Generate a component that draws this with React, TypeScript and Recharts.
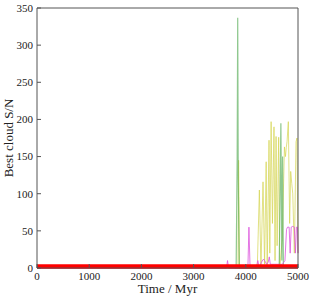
import { LineChart, Line, XAxis, YAxis } from 'recharts'

// best cloud signal-to-noise vs time

const xTicks = [0, 1000, 2000, 3000, 4000, 5000]
const yTicks = [0, 50, 100, 150, 200, 250, 300, 350]

const redTime = [0, 1000, 2000, 3000, 4000, 5000]
const redSN = [2, 2, 2, 2, 2, 2]

const greenTime = [3790, 3815, 3835, 3845, 3855, 3875, 4640, 4660, 4672, 4690, 4705, 4720]
const greenSN = [0, 0, 150, 337, 120, 0, 0, 120, 195, 10, 150, 0]

const yellowTime = [
  3830, 3850, 3862, 3880, 4220, 4260, 4290, 4330, 4360, 4390, 4410, 4445, 4460, 4485, 4510,
  4540, 4560, 4580, 4600, 4630, 4650, 4700, 4740, 4760, 4775, 4790, 4815, 4840, 4860, 4880,
  4900, 4930, 4962, 4980, 5000,
]
const yellowSN = [
  0, 0, 145, 0, 0, 105, 0, 116, 5, 143, 0, 172, 20, 197, 60,
  190, 10, 177, 30, 176, 0, 40, 163, 150, 162, 170, 197, 60, 130, 114,
  100, 20, 170, 175, 20,
]

const magentaTime = [
  0, 3630, 3650, 3670, 4040, 4060, 4080, 4100, 4200, 4230, 4260, 4300, 4340, 4360, 4400,
  4430, 4450, 4470, 4550, 4650, 4700, 4750, 4780, 4800, 4830, 4850, 4870, 4900, 4930, 4950,
  4970, 4990, 5000,
]
const magentaSN = [
  0, 0, 10, 0, 0, 55, 5, 0, 0, 10, 0, 8, 12, 10, 5,
  8, 15, 5, 5, 5, 5, 10, 52, 55, 55, 20, 55, 56, 55, 20,
  55, 55, 20,
]

const toRows = (t: number[], v: number[]) => t.map((x, i) => ({ t: x, v: v[i] }))

const font = '"Liberation Serif", "DejaVu Serif", serif'
const axisColor = '#555'

export default function App() {
  return (
    <div style={{ position: 'absolute', left: 0, top: 0, background: '#fff' }}>
      <LineChart width={314} height={300} margin={{ top: 7, right: 15, bottom: 0, left: 0 }}>
        <XAxis
          xAxisId="b"
          dataKey="t"
          type="number"
          domain={[0, 5000]}
          ticks={xTicks}
          allowDuplicatedCategory={false}
          height={32}
          tickSize={-4}
          tickMargin={8}
          axisLine={{ stroke: axisColor }}
          tickLine={{ stroke: axisColor }}
          tick={{ fill: '#222', fontSize: 11, fontFamily: font }}
          label={{ value: 'Time / Myr', position: 'insideBottom', offset: 7, fill: '#222', fontSize: 13, fontFamily: font }}
        />
        <XAxis
          xAxisId="t"
          orientation="top"
          dataKey="t"
          type="number"
          domain={[0, 5000]}
          ticks={xTicks}
          allowDuplicatedCategory={false}
          height={1}
          tickSize={-4}
          tickFormatter={() => ''}
          axisLine={{ stroke: axisColor }}
          tickLine={{ stroke: axisColor }}
        />
        <YAxis
          yAxisId="l"
          type="number"
          domain={[0, 350]}
          ticks={yTicks}
          width={37}
          tickSize={-4}
          tickMargin={8}
          axisLine={{ stroke: axisColor }}
          tickLine={{ stroke: axisColor }}
          tick={{ fill: '#222', fontSize: 11, fontFamily: font }}
          label={{ value: 'Best cloud S/N', angle: -90, position: 'insideLeft', offset: 8, fill: '#222', fontSize: 13, fontFamily: font, style: { textAnchor: 'middle' } }}
        />
        <YAxis
          yAxisId="r"
          orientation="right"
          type="number"
          domain={[0, 350]}
          ticks={yTicks}
          width={1}
          tickSize={-4}
          tickFormatter={() => ''}
          axisLine={{ stroke: axisColor }}
          tickLine={{ stroke: axisColor }}
        />
        <Line xAxisId="b" yAxisId="l" data={toRows(yellowTime, yellowSN)} dataKey="v" stroke="#d4d450" strokeOpacity={0.7} strokeWidth={1} dot={false} isAnimationActive={false} />
        <Line xAxisId="b" yAxisId="l" data={toRows(greenTime, greenSN)} dataKey="v" stroke="#60b060" strokeOpacity={0.7} strokeWidth={1.2} dot={false} isAnimationActive={false} />
        <Line xAxisId="b" yAxisId="l" data={toRows(magentaTime, magentaSN)} dataKey="v" stroke="#dd55dd" strokeOpacity={0.8} strokeWidth={1} dot={false} isAnimationActive={false} />
        <Line xAxisId="b" yAxisId="l" data={toRows(redTime, redSN)} dataKey="v" stroke="#ff0000" strokeWidth={4.5} dot={false} isAnimationActive={false} />
      </LineChart>
    </div>
  )
}
